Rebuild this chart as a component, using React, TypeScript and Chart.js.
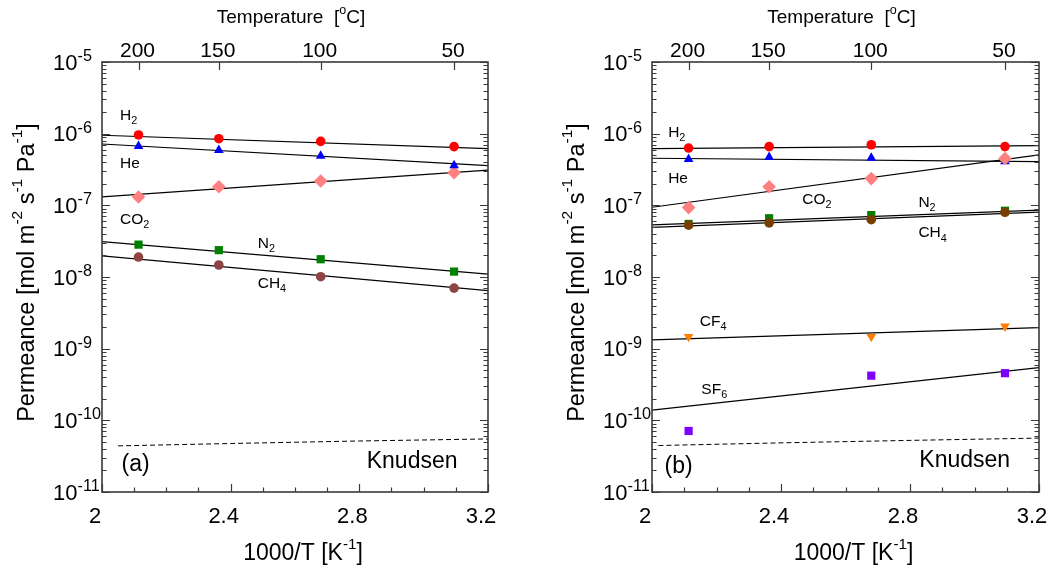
import React, { useEffect, useRef } from 'react';
import { Chart, registerables } from 'chart.js';

Chart.register(...registerables);

const FONT = '"Liberation Sans", Arial, Helvetica, sans-serif';

// ---------- Data ----------
const TEMPS_C = [200, 150, 100, 50];
const INV_T = [2.1135, 2.3632, 2.6799, 3.0945]; // 1000/T [K^-1] of the temperatures above
const INV_T_3 = [2.1135, 2.6799, 3.0945]; // CF4 / SF6 temperatures (200, 100, 50 degC)
const X_MAJOR = [2, 2.4, 2.8, 3.2];
const Y_DECADES = [-11, -10, -9, -8, -7, -6, -5];
const FIT_X = [2, 3.2];
const KN_X = [2.05, 2.4, 2.8, 3.2];

// Panel (a)
const A_H2 = [9.6e-7, 8.5e-7, 7.8e-7, 6.6e-7];
const A_HE = [6.7e-7, 5.9e-7, 4.9e-7, 3.6e-7];
const A_CO2 = [1.31e-7, 1.82e-7, 2.19e-7, 2.86e-7];
const A_N2 = [2.83e-8, 2.37e-8, 1.77e-8, 1.19e-8];
const A_CH4 = [1.9e-8, 1.47e-8, 1.01e-8, 7.0e-9];
const A_H2_FIT = [9.5e-7, 6.18e-7];
const A_HE_FIT = [7.18e-7, 3.58e-7];
const A_CO2_FIT = [1.31e-7, 3.09e-7];
const A_N2_FIT = [3.12e-8, 1.1e-8];
const A_CH4_FIT = [1.97e-8, 6.46e-9];
const A_KNUDSEN = [4.4e-11, 4.75e-11, 5.15e-11, 5.5e-11];

// Panel (b)
const B_H2 = [6.3e-7, 6.6e-7, 7.0e-7, 6.6e-7];
const B_HE = [4.4e-7, 4.7e-7, 4.6e-7, 4.1e-7];
const B_CO2 = [9.3e-8, 1.82e-7, 2.36e-7, 4.5e-7];
const B_N2 = [5.5e-8, 6.6e-8, 7.3e-8, 8.4e-8];
const B_CH4 = [5.3e-8, 5.7e-8, 6.3e-8, 8.0e-8];
const B_CF4 = [1.47e-9, 1.47e-9, 2.05e-9];
const B_SF6 = [7.1e-11, 4.2e-10, 4.55e-10];
const B_H2_FIT = [6.18e-7, 6.81e-7];
const B_HE_FIT = [4.54e-7, 4.07e-7];
const B_CO2_FIT = [9.4e-8, 5.05e-7];
const B_N2_FIT = [5.33e-8, 8.55e-8];
const B_CH4_FIT = [4.94e-8, 8.02e-8];
const B_CF4_FIT = [1.33e-9, 1.97e-9];
const B_SF6_FIT = [1.39e-10, 5.45e-10];
const B_KNUDSEN = [4.45e-11, 4.85e-11, 5.25e-11, 5.65e-11];
const B_KN_X = [2.02, 2.4, 2.8, 3.2];

// ---------- helpers ----------
type Part = { t: string; s?: 'sub' | 'sup' };
type Label = { parts: Part[]; x: number; y: number; size: number };

const pts = (xs: number[], ys: number[]) => xs.map((x, i) => ({ x, y: ys[i] }));

function markers(xs: number[], ys: number[], color: string, style: string, radius: number, rotation = 0) {
  return {
    type: 'line' as const,
    data: pts(xs, ys),
    showLine: false,
    pointStyle: style,
    pointRadius: radius,
    pointRotation: rotation,
    pointBackgroundColor: color,
    pointBorderColor: color,
    pointBorderWidth: 0,
    order: 0,
  };
}

function fit(ys: number[]) {
  return {
    type: 'line' as const,
    data: pts(FIT_X, ys),
    borderColor: '#000',
    borderWidth: 1.2,
    pointRadius: 0,
    tension: 0,
    order: 1,
  };
}

function knudsen(xs: number[], ys: number[]) {
  return {
    type: 'line' as const,
    data: pts(xs, ys),
    borderColor: '#000',
    borderWidth: 1,
    borderDash: [5, 3],
    pointRadius: 0,
    tension: 0,
    order: 1,
  };
}

function drawRich(
  ctx: CanvasRenderingContext2D,
  parts: Part[],
  x: number,
  y: number,
  size: number,
  align: 'left' | 'center',
  supScale = 0.66,
  supRaise = 0.47
) {
  const segs = parts.map((p) => {
    const fs = p.s === 'sub' ? size * 0.7 : p.s === 'sup' ? size * supScale : size;
    ctx.font = `${fs}px ${FONT}`;
    return { ...p, fs, w: ctx.measureText(p.t).width };
  });
  const total = segs.reduce((a, b) => a + b.w, 0);
  let cx = align === 'center' ? x - total / 2 : x;
  ctx.textAlign = 'left';
  ctx.textBaseline = 'alphabetic';
  for (const sg of segs) {
    ctx.font = `${sg.fs}px ${FONT}`;
    const dy = sg.s === 'sub' ? size * 0.28 : sg.s === 'sup' ? -size * supRaise : 0;
    ctx.fillText(sg.t, cx, y + dy);
    cx += sg.w;
  }
}

function framePlugin(labels: Label[]) {
  return {
    id: 'frame',
    afterDraw(chart: any) {
      const { ctx, chartArea: ca } = chart;
      const xs = chart.scales.x;
      const ys = chart.scales.y;
      ctx.save();
      ctx.fillStyle = '#000';
      ctx.strokeStyle = '#3a3a3a';
      // ticks
      ctx.lineWidth = 1.2;
      ctx.beginPath();
      for (const d of Y_DECADES) {
        for (let k = 1; k <= 9; k++) {
          if (d === -5 && k > 1) break;
          const v = k * Math.pow(10, d);
          const py = Math.round(ys.getPixelForValue(v)) + 0.5;
          const len = k === 1 ? 8 : 4.5;
          ctx.moveTo(ca.left, py);
          ctx.lineTo(ca.left + len, py);
          ctx.moveTo(ca.right, py);
          ctx.lineTo(ca.right - len, py);
        }
      }
      for (let i = 0; i <= 12; i++) {
        const v = 2 + i * 0.1;
        const px = Math.round(xs.getPixelForValue(v)) + 0.5;
        const len = i % 4 === 0 ? 8 : 4.5;
        ctx.moveTo(px, ca.bottom);
        ctx.lineTo(px, ca.bottom - len);
      }
      for (const v of INV_T) {
        const px = Math.round(xs.getPixelForValue(v)) + 0.5;
        ctx.moveTo(px, ca.top);
        ctx.lineTo(px, ca.top + 8);
      }
      ctx.stroke();
      // frame
      ctx.lineWidth = 1.6;
      ctx.strokeRect(ca.left, ca.top, ca.right - ca.left, ca.bottom - ca.top);

      // y tick labels
      for (const d of Y_DECADES) {
        const py = ys.getPixelForValue(Math.pow(10, d));
        drawRich(ctx, [{ t: '10' }, { t: String(d), s: 'sup' }], ca.left - 49, py + 7.7, 22, 'left', 0.74, 0.4);
      }
      // bottom tick labels
      ctx.font = `22px ${FONT}`;
      ctx.textAlign = 'center';
      ctx.textBaseline = 'alphabetic';
      for (const v of X_MAJOR) {
        ctx.fillText(String(v), xs.getPixelForValue(v) - 7, ca.bottom + 31);
      }
      // top tick labels
      ctx.font = `21px ${FONT}`;
      INV_T.forEach((v, i) => {
        ctx.fillText(String(TEMPS_C[i]), xs.getPixelForValue(v) - 1, ca.top - 5);
      });
      const cx = (ca.left + ca.right) / 2;
      // titles
      drawRich(ctx, [{ t: 'Temperature  [' }, { t: 'o', s: 'sup' }, { t: 'C]' }], cx - 4, ca.top - 39, 19, 'center');
      drawRich(ctx, [{ t: '1000/T [K' }, { t: '-1', s: 'sup' }, { t: ']' }], cx + 8, ca.bottom + 68, 23, 'center');
      ctx.save();
      ctx.translate(ca.left - 68.5, (ca.top + ca.bottom) / 2 - 4.5);
      ctx.rotate(-Math.PI / 2);
      drawRich(
        ctx,
        [
          { t: 'Permeance [mol m' },
          { t: '-2', s: 'sup' },
          { t: ' s' },
          { t: '-1', s: 'sup' },
          { t: ' Pa' },
          { t: '-1', s: 'sup' },
          { t: ']' },
        ],
        0,
        0,
        23.5,
        'center'
      );
      ctx.restore();
      // annotations
      for (const lb of labels) {
        drawRich(ctx, lb.parts, xs.getPixelForValue(lb.x), ys.getPixelForValue(lb.y), lb.size, 'left');
      }
      ctx.restore();
    },
  };
}

const sub = (a: string, b: string): Part[] => [{ t: a }, { t: b, s: 'sub' }];

const A_LABELS: Label[] = [
  { parts: sub('H', '2'), x: 2.056, y: 1.55e-6, size: 15.5 },
  { parts: [{ t: 'He' }], x: 2.056, y: 3.33e-7, size: 15.5 },
  { parts: sub('CO', '2'), x: 2.056, y: 5.5e-8, size: 15.5 },
  { parts: sub('N', '2'), x: 2.484, y: 2.55e-8, size: 15.5 },
  { parts: sub('CH', '4'), x: 2.484, y: 7.05e-9, size: 15.5 },
  { parts: [{ t: 'Knudsen' }], x: 2.823, y: 2.18e-11, size: 23 },
  { parts: [{ t: '(a)' }], x: 2.061, y: 1.98e-11, size: 23 },
];

const B_LABELS: Label[] = [
  { parts: sub('H', '2'), x: 2.05, y: 9.1e-7, size: 15.5 },
  { parts: [{ t: 'He' }], x: 2.05, y: 2.03e-7, size: 15.5 },
  { parts: sub('CO', '2'), x: 2.466, y: 1.05e-7, size: 15.5 },
  { parts: sub('N', '2'), x: 2.826, y: 9.6e-8, size: 15.5 },
  { parts: sub('CH', '4'), x: 2.826, y: 3.59e-8, size: 15.5 },
  { parts: sub('CF', '4'), x: 2.148, y: 2.08e-9, size: 15.5 },
  { parts: sub('SF', '6'), x: 2.153, y: 2.34e-10, size: 15.5 },
  { parts: [{ t: 'Knudsen' }], x: 2.829, y: 2.22e-11, size: 23 },
  { parts: [{ t: '(b)' }], x: 2.039, y: 1.87e-11, size: 23 },
];

const RED = '#ff0000';
const BLUE = '#0000ff';
const PINK = '#ff8080';
const GREEN = '#008000';
const BROWN_A = '#8c4444';
const BROWN_B = '#7a3d00';
const ORANGE = '#ff8000';
const PURPLE = '#8000ff';

const A_DATASETS = [
  markers(INV_T, A_H2, RED, 'circle', 4.8),
  markers(INV_T, A_HE, BLUE, 'triangle', 5.6),
  markers(INV_T, A_CO2, PINK, 'rectRot', 6.8),
  markers(INV_T, A_N2, GREEN, 'rect', 5.8),
  markers(INV_T, A_CH4, BROWN_A, 'circle', 4.8),
  fit(A_H2_FIT),
  fit(A_HE_FIT),
  fit(A_CO2_FIT),
  fit(A_N2_FIT),
  fit(A_CH4_FIT),
  knudsen(KN_X, A_KNUDSEN),
];

const B_DATASETS = [
  markers(INV_T, B_CO2, PINK, 'rectRot', 6.8),
  markers(INV_T, B_H2, RED, 'circle', 4.8),
  markers(INV_T, B_HE, BLUE, 'triangle', 5.6),
  markers(INV_T, B_CH4, BROWN_B, 'circle', 4.8),
  markers(INV_T, B_N2, GREEN, 'rect', 5.8),
  markers(INV_T_3, B_CF4, ORANGE, 'triangle', 5.6, 180),
  markers(INV_T_3, B_SF6, PURPLE, 'rect', 5.8),
  fit(B_H2_FIT),
  fit(B_HE_FIT),
  fit(B_CO2_FIT),
  fit(B_N2_FIT),
  fit(B_CH4_FIT),
  fit(B_CF4_FIT),
  fit(B_SF6_FIT),
  knudsen(B_KN_X, B_KNUDSEN),
];

const W = 1051;
const H = 572;

type PanelProps = {
  padding: { left: number; right: number; top: number; bottom: number };
  datasets: any[];
  labels: Label[];
};

function Panel({ padding, datasets, labels }: PanelProps) {
  const ref = useRef<HTMLCanvasElement>(null);
  useEffect(() => {
    const chart = new Chart(ref.current as HTMLCanvasElement, {
      type: 'line',
      data: { datasets: datasets as any },
      options: {
        animation: false,
        responsive: false,
        devicePixelRatio: 1,
        layout: { padding },
        plugins: { legend: { display: false }, tooltip: { enabled: false } },
        scales: {
          x: { type: 'linear', min: 2, max: 3.2, display: false },
          y: { type: 'logarithmic', min: 1e-11, max: 1e-5, display: false },
        },
      },
      plugins: [framePlugin(labels)],
    });
    return () => chart.destroy();
  }, []);
  return (
    <canvas
      ref={ref}
      width={W}
      height={H}
      style={{ position: 'absolute', left: 0, top: 0, width: W, height: H, display: 'block' }}
    />
  );
}

export default function App() {
  return (
    <div style={{ position: 'absolute', left: 0, top: 0, width: W, height: H, background: '#fff' }}>
      <Panel padding={{ left: 102, right: W - 488, top: 62, bottom: 80 }} datasets={A_DATASETS} labels={A_LABELS} />
      <Panel padding={{ left: 652, right: W - 1039, top: 62, bottom: 80 }} datasets={B_DATASETS} labels={B_LABELS} />
    </div>
  );
}
